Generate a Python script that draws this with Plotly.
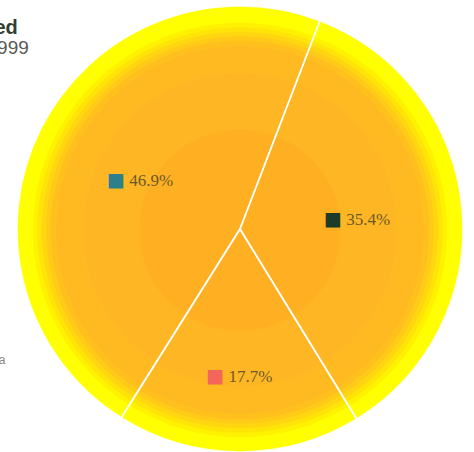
import plotly.graph_objects as go

# Data
labels = ["B", "C", "A"]
values = [35.4, 17.7, 46.9]
swatch_colors = ["#1d3b29", "#f4665a", "#2e7f8c"]

title_line1 = "Expenses Shared"
title_line2 = "Budget 1999"
note_text = "Data"

# Radial gradient layers (fraction of radius, colour)
layer_fracs = [1.00, 0.925, 0.905, 0.885, 0.865, 0.845, 0.82, 0.70, 0.45]
layer_colors = ["#FFFF00", "#FFF200", "#FFE408", "#FFD610", "#FFCA18", "#FFC01E",
                "#FFBA22", "#FFB624", "#FFB022"]

W, H = 474, 452
cx, cy = 240 / W, 1 - 230 / H
half_w = 224 / W
half_h = 224 / H

fig = go.Figure()
for f, c in zip(layer_fracs, layer_colors):
    fig.add_trace(go.Pie(
        values=[1], labels=["bg"], sort=False,
        marker=dict(colors=[c], line=dict(width=0)),
        textinfo="none", hoverinfo="skip", showlegend=False,
        domain=dict(x=[cx - f * half_w, cx + f * half_w], y=[max(0, cy - f * half_h), cy + f * half_h]),
    ))

texts = [f'<span style="font-family:DejaVu Sans;font-size:19px;color:{c}">■</span> ' for c in swatch_colors]
fig.add_trace(go.Pie(
    labels=labels, values=values, sort=False, direction="clockwise", rotation=21,
    text=texts,
    texttemplate="%{text}%{percent:.1%}",
    textposition="inside", insidetextorientation="horizontal",
    textfont=dict(family="Liberation Serif", size=17, color="#6b5a2a"),
    marker=dict(colors=["rgba(0,0,0,0)"] * 3, line=dict(color="rgba(255,255,255,0.9)", width=1.6)),
    hoverinfo="label+percent", showlegend=False,
    domain=dict(x=[cx - half_w, cx + half_w], y=[max(0, cy - half_h), cy + half_h]),
))

fig.add_annotation(text=f"<b>{title_line1}</b>", x=20 / W, y=1 - 27 / H, xref="paper", yref="paper",
                   xanchor="right", yanchor="middle", showarrow=False,
                   font=dict(family="Liberation Sans", size=20, color="#2f3f33"))
fig.add_annotation(text=title_line2, x=31 / W, y=1 - 48 / H, xref="paper", yref="paper",
                   xanchor="right", yanchor="middle", showarrow=False,
                   font=dict(family="Liberation Sans", size=19, color="#5a5a5a"))
fig.add_annotation(text=note_text, x=8 / W, y=1 - 360 / H, xref="paper", yref="paper",
                   xanchor="right", yanchor="middle", showarrow=False,
                   font=dict(family="Liberation Sans", size=12, color="#888888"))

fig.update_layout(width=W, height=H, margin=dict(l=0, r=0, t=0, b=0),
                  paper_bgcolor="white", plot_bgcolor="white")
fig.write_html("out.html")
